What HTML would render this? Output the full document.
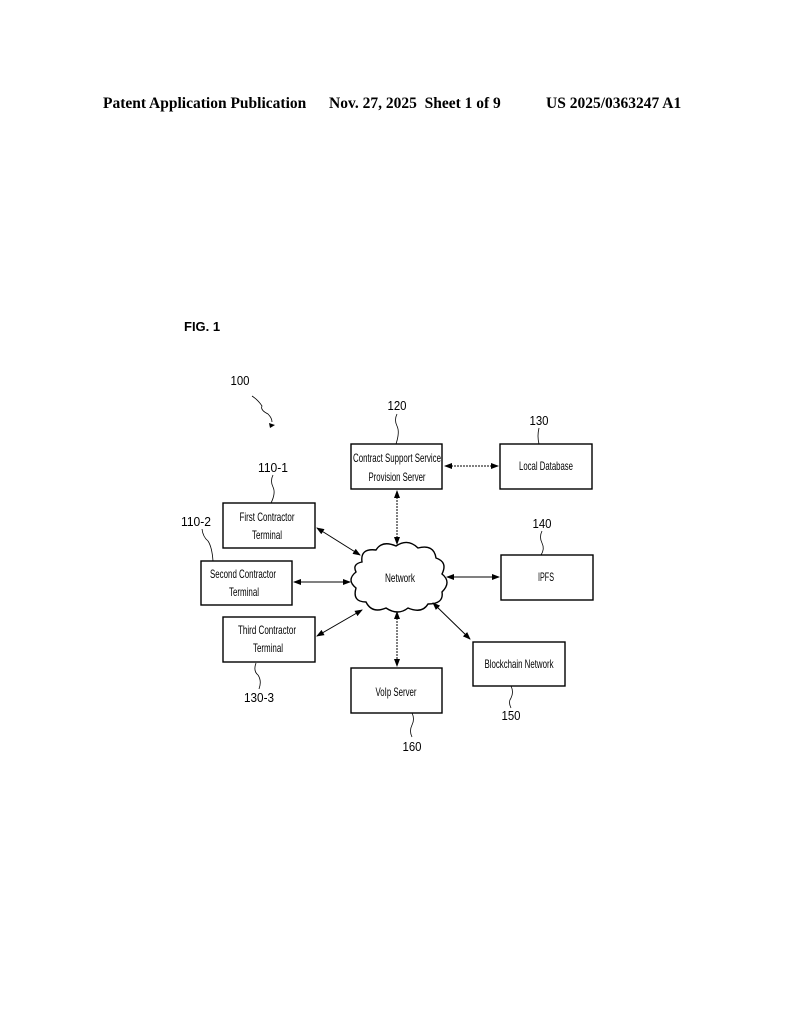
<!DOCTYPE html>
<html><head><meta charset="utf-8"><style>
body{margin:0;background:#fff;}
.wrap{position:relative;width:794px;height:1024px;overflow:hidden;}
.hdr{position:absolute;top:95px;font:bold 15.5px "Liberation Serif",serif;white-space:nowrap;}
</style></head><body><div class="wrap">
<div class="hdr" style="left:103px">Patent Application Publication</div>
<div class="hdr" style="left:329px">Nov. 27, 2025&nbsp; Sheet 1 of 9</div>
<div class="hdr" style="left:546px">US 2025/0363247 A1</div>
<div style="position:absolute;left:184px;top:319px;font:bold 13px 'Liberation Sans',sans-serif">FIG. 1</div>
<svg width="794" height="1024" style="position:absolute;left:0;top:0" font-family="Liberation Sans, sans-serif">
<defs>
<marker id="a" markerWidth="8" markerHeight="6" refX="7" refY="3" orient="auto-start-reverse" markerUnits="userSpaceOnUse"><path d="M0,0 L8,3 L0,6z" fill="#000"/></marker>
</defs>
<g fill="none" stroke="#000" stroke-width="1.4">
<rect x="351" y="444" width="91" height="45"/>
<rect x="500" y="444" width="92" height="45"/>
<rect x="223" y="503" width="92" height="45"/>
<rect x="201" y="561" width="91" height="44"/>
<rect x="223" y="617" width="92" height="45"/>
<rect x="501" y="555" width="92" height="45"/>
<rect x="351" y="668" width="91" height="45"/>
<rect x="473" y="642" width="92" height="44"/>
<path d="M362,562 q-2,-14 14,-12 q6,-10 20,-4 q12,-8 22,2 q16,-4 18,10 q12,4 6,16 q10,8 0,18 q2,12 -14,12 q-6,10 -20,4 q-10,8 -22,0 q-14,6 -20,-6 q-14,0 -10,-14 q-10,-8 0,-16 q-4,-8 6,-10z"/>
</g>
<g stroke="#000" stroke-width="1" fill="none" marker-start="url(#a)" marker-end="url(#a)">
<line x1="445" y1="466" x2="498" y2="466" stroke-dasharray="2,1"/>
<line x1="397" y1="491" x2="397" y2="544" stroke-dasharray="2,1"/>
<line x1="317" y1="528" x2="360" y2="555"/>
<line x1="294" y1="582" x2="350" y2="582"/>
<line x1="317" y1="636" x2="362" y2="610"/>
<line x1="447" y1="577" x2="499" y2="577"/>
<line x1="397" y1="612" x2="397" y2="666" stroke-dasharray="2,1"/>
<line x1="433" y1="603" x2="470" y2="639"/>
</g>
<g stroke="#000" stroke-width="0.8" fill="none">
<path d="M252,396 q6,4 10,10 q-2,4 6,8 q4,4 4,8"/>
<path d="M397,414 q-3,6 0,12 q3,6 -1,18"/>
<path d="M539,428 q-2,8 0,16"/>
<path d="M273,475 q-3,6 0,12 q3,6 -2,16"/>
<path d="M202,529 q1,8 6,12 q4,6 5,20"/>
<path d="M542,531 q-3,6 0,12 q3,6 -1,12"/>
<path d="M256,663 q-3,8 2,12 q4,6 1,14"/>
<path d="M511,686 q3,6 0,12 q-3,4 0,10"/>
<path d="M412,713 q3,6 0,12 q-3,6 0,12"/>
</g>
<path d="M269,423 l6,2 l-5,3z" fill="#000"/>
<g font-size="13" text-anchor="middle" fill="#000">
<text x="240" y="385" textLength="19" lengthAdjust="spacingAndGlyphs">100</text>
<text x="397" y="410" textLength="19" lengthAdjust="spacingAndGlyphs">120</text>
<text x="539" y="425" textLength="19" lengthAdjust="spacingAndGlyphs">130</text>
<text x="273" y="472" textLength="30" lengthAdjust="spacingAndGlyphs">110-1</text>
<text x="196" y="526" textLength="30" lengthAdjust="spacingAndGlyphs">110-2</text>
<text x="259" y="702" textLength="30" lengthAdjust="spacingAndGlyphs">130-3</text>
<text x="542" y="528" textLength="19" lengthAdjust="spacingAndGlyphs">140</text>
<text x="511" y="720" textLength="19" lengthAdjust="spacingAndGlyphs">150</text>
<text x="412" y="751" textLength="19" lengthAdjust="spacingAndGlyphs">160</text>
</g>
<g font-size="12" text-anchor="middle" fill="#000">
<text x="397" y="462" textLength="88" lengthAdjust="spacingAndGlyphs">Contract Support Service</text>
<text x="397" y="481" textLength="57" lengthAdjust="spacingAndGlyphs">Provision Server</text>
<text x="546" y="470" textLength="54" lengthAdjust="spacingAndGlyphs">Local Database</text>
<text x="267" y="521" textLength="55" lengthAdjust="spacingAndGlyphs">First Contractor</text>
<text x="267" y="539" textLength="30" lengthAdjust="spacingAndGlyphs">Terminal</text>
<text x="243" y="578" textLength="66" lengthAdjust="spacingAndGlyphs">Second Contractor</text>
<text x="244" y="596" textLength="30" lengthAdjust="spacingAndGlyphs">Terminal</text>
<text x="267" y="634" textLength="58" lengthAdjust="spacingAndGlyphs">Third Contractor</text>
<text x="268" y="652" textLength="30" lengthAdjust="spacingAndGlyphs">Terminal</text>
<text x="400" y="582" textLength="30" lengthAdjust="spacingAndGlyphs">Network</text>
<text x="546" y="581" textLength="16" lengthAdjust="spacingAndGlyphs">IPFS</text>
<text x="396" y="696" textLength="41" lengthAdjust="spacingAndGlyphs">VoIp Server</text>
<text x="519" y="668" textLength="69" lengthAdjust="spacingAndGlyphs">Blockchain Network</text>
</g>
</svg>
</div></body></html>
